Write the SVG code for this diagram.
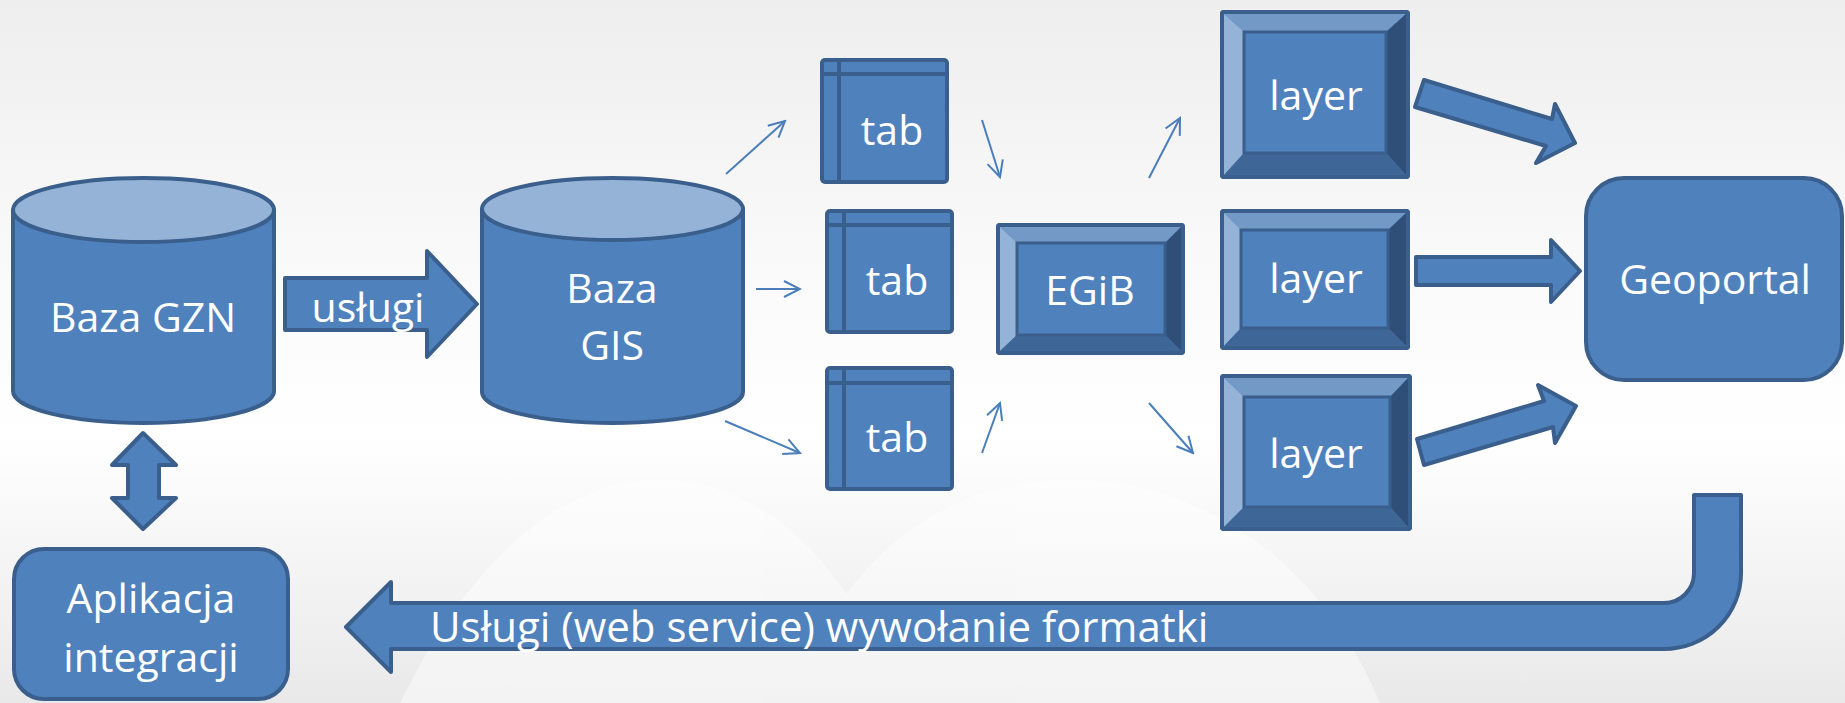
<svg xmlns="http://www.w3.org/2000/svg" width="1845" height="703" viewBox="0 0 1845 703">
<defs>
<linearGradient id="bg" x1="0" y1="0" x2="0" y2="1">
<stop offset="0" stop-color="#eeeeee"/>
<stop offset="0.35" stop-color="#f9f9f9"/>
<stop offset="0.62" stop-color="#ffffff"/>
<stop offset="1" stop-color="#e9e9e9"/>
</linearGradient>
<marker id="open" viewBox="0 0 20 20" refX="18" refY="10" markerWidth="20" markerHeight="20" markerUnits="userSpaceOnUse" orient="auto">
<path d="M2,2 L18,10 L2,18" fill="none" stroke="#4a7ebb" stroke-width="2"/>
</marker>
<style>
.sh{fill:#4f81bd;stroke:#3a5f8c;stroke-width:4;stroke-linejoin:round}
.top{fill:#95b3d7;stroke:#3a5f8c;stroke-width:4}
.bt{fill:#7399c6}.bl{fill:#95b3d7}.br{fill:#2f4f78}.bb{fill:#3e6697}
.in{fill:#4f81bd;stroke:#3a5f8c;stroke-width:3}
.tl{stroke:#3a5f8c;stroke-width:4;fill:none}
.thin{stroke:#4a7ebb;stroke-width:2;fill:none;marker-end:url(#open)}
.t{font-family:'Open Sans','Noto Sans',sans-serif;fill:#ffffff;font-size:41px;text-anchor:middle}
</style>
</defs>
<rect x="0" y="0" width="1845" height="703" fill="url(#bg)"/>
<g id="background-arcs" fill="#ffffff" opacity="0.45">
<path d="M400,703 C470,560 560,480 660,480 C760,480 850,560 900,703 Z"/>
<path d="M790,703 C840,560 940,480 1070,480 C1200,480 1320,560 1380,703 Z"/>
</g>

<g id="connectors">
<line class="thin" x1="726" y1="174" x2="785" y2="121"/>
<line class="thin" x1="756" y1="289" x2="800" y2="289"/>
<line class="thin" x1="725" y1="421" x2="800" y2="453"/>
<line class="thin" x1="982" y1="120" x2="1000" y2="177"/>
<line class="thin" x1="982" y1="453" x2="1000" y2="403"/>
<line class="thin" x1="1149" y1="178" x2="1180" y2="118"/>
<line class="thin" x1="1149" y1="403" x2="1193" y2="453"/>
<g id="uslugi-arrow">
<polygon class="sh" points="285,278 427,278 427,251 477,304 427,357 427,330 285,330"/>
<text class="t" x="368" y="322">usługi</text>
</g>
<polygon id="double-arrow" class="sh" points="143,433 176,465 159,465 159,498 176,498 143,529 112,498 128,498 128,465 112,465"/>
<polygon id="arrow-l1" class="sh" points="1424,80 1552,119 1555,104 1575,143 1536,163 1546,146 1415,107"/>
<polygon id="arrow-l2" class="sh" points="1416,257 1551,257 1551,240 1580,271 1551,302 1551,285 1416,285"/>
<polygon id="arrow-l3" class="sh" points="1417,439 1544,401 1538,385 1576,406 1555,443 1553,427 1424,465"/>
<g id="return-arrow">
<path class="sh" d="M346,627 L391,582 L391,603 L1664,603 A30,30 0 0 0 1694,573 L1694,495 L1741,495 L1741,573 A77,76 0 0 1 1664,649 L391,649 L391,672 Z"/>
<text class="t" x="430" y="642" style="text-anchor:start;font-size:42px">Usługi (web service) wywołanie formatki</text>
</g>
</g>

<g id="baza-gzn">
<path class="sh" d="M13,210 L13,391 A130.5,32 0 0 0 274,391 L274,210 Z"/>
<ellipse class="top" cx="143.5" cy="210" rx="130.5" ry="32"/>
<text class="t" x="143" y="332">Baza GZN</text>
</g>

<g id="baza-gis">
<path class="sh" d="M482,209 L482,392 A130.5,31 0 0 0 743,392 L743,209 Z"/>
<ellipse class="top" cx="612.5" cy="209" rx="130.5" ry="31"/>
<text class="t" x="612" y="303">Baza</text>
<text class="t" x="612" y="360">GIS</text>
</g>

<g id="tab1">
<rect class="sh" x="822" y="60" width="125" height="122" rx="3"/>
<line class="tl" x1="839" y1="60" x2="839" y2="182"/>
<line class="tl" x1="822" y1="74" x2="947" y2="74"/>
<text class="t" x="892" y="145">tab</text>
</g>
<g id="tab2">
<rect class="sh" x="827" y="211" width="125" height="121" rx="3"/>
<line class="tl" x1="844" y1="211" x2="844" y2="332"/>
<line class="tl" x1="827" y1="225" x2="952" y2="225"/>
<text class="t" x="897" y="295">tab</text>
</g>
<g id="tab3">
<rect class="sh" x="827" y="368" width="125" height="121" rx="3"/>
<line class="tl" x1="844" y1="368" x2="844" y2="489"/>
<line class="tl" x1="827" y1="383" x2="952" y2="383"/>
<text class="t" x="897" y="452">tab</text>
</g>

<g id="egib">
<rect class="sh" x="998" y="225" width="185" height="128" rx="2"/>
<polygon class="bt" points="1000,227 1181,227 1165,243 1017,243"/>
<polygon class="bl" points="1000,227 1017,243 1017,335 1000,351"/>
<polygon class="br" points="1181,227 1181,351 1165,335 1165,243"/>
<polygon class="bb" points="1000,351 1017,335 1165,335 1181,351"/>
<rect class="in" x="1017" y="243" width="148" height="92"/>
<rect x="998" y="225" width="185" height="128" rx="2" fill="none" stroke="#3a5f8c" stroke-width="4"/>
<text class="t" x="1090" y="305">EGiB</text>
</g>

<g id="layer1">
<rect class="sh" x="1222" y="12" width="186" height="165" rx="2"/>
<polygon class="bt" points="1224,14 1406,14 1386,32 1244,32"/>
<polygon class="bl" points="1224,14 1244,32 1244,153 1224,175"/>
<polygon class="br" points="1406,14 1406,175 1386,153 1386,32"/>
<polygon class="bb" points="1224,175 1244,153 1386,153 1406,175"/>
<rect class="in" x="1244" y="32" width="142" height="121"/>
<rect x="1222" y="12" width="186" height="165" rx="2" fill="none" stroke="#3a5f8c" stroke-width="4"/>
<text class="t" x="1316" y="110">layer</text>
</g>

<g id="layer2">
<rect class="sh" x="1222" y="211" width="186" height="137" rx="2"/>
<polygon class="bt" points="1224,213 1406,213 1388,230 1241,230"/>
<polygon class="bl" points="1224,213 1241,230 1241,328 1224,346"/>
<polygon class="br" points="1406,213 1406,346 1388,328 1388,230"/>
<polygon class="bb" points="1224,346 1241,328 1388,328 1406,346"/>
<rect class="in" x="1241" y="230" width="147" height="98"/>
<rect x="1222" y="211" width="186" height="137" rx="2" fill="none" stroke="#3a5f8c" stroke-width="4"/>
<text class="t" x="1316" y="293">layer</text>
</g>

<g id="layer3">
<rect class="sh" x="1222" y="376" width="188" height="153" rx="2"/>
<polygon class="bt" points="1224,378 1408,378 1390,397 1244,397"/>
<polygon class="bl" points="1224,378 1244,397 1244,507 1224,527"/>
<polygon class="br" points="1408,378 1408,527 1390,507 1390,397"/>
<polygon class="bb" points="1224,527 1244,507 1390,507 1408,527"/>
<rect class="in" x="1244" y="397" width="146" height="110"/>
<rect x="1222" y="376" width="188" height="153" rx="2" fill="none" stroke="#3a5f8c" stroke-width="4"/>
<text class="t" x="1316" y="468">layer</text>
</g>

<g id="geoportal">
<rect class="sh" x="1586" y="178" width="256" height="202" rx="38"/>
<text class="t" x="1715" y="294">Geoportal</text>
</g>

<g id="aplikacja">
<rect class="sh" x="14" y="549" width="274" height="150" rx="30"/>
<text class="t" x="151" y="613">Aplikacja</text>
<text class="t" x="151" y="672">integracji</text>
</g>
</svg>
